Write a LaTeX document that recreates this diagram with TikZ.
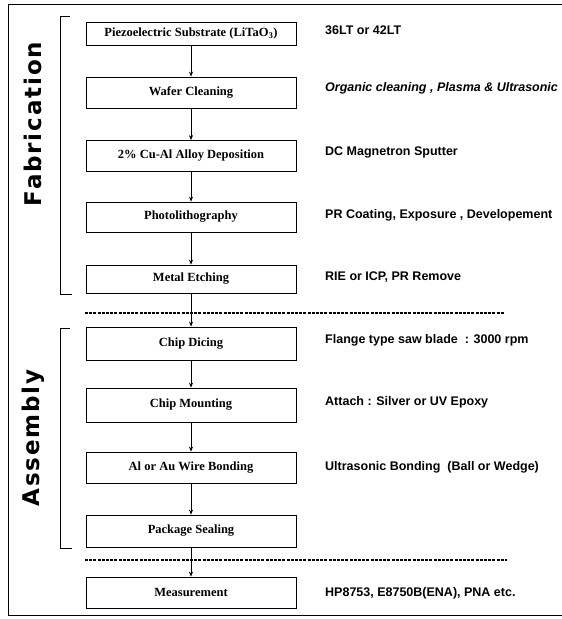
\documentclass[tikz,border=0pt]{standalone}
\usepackage{fontspec}
\setmainfont{Liberation Serif}
\newfontfamily\notefont{Liberation Sans}
\newfontfamily\sidefont[LetterSpace=8]{DejaVu Sans}
\usetikzlibrary{arrows.meta}
\tikzset{
  stepbox/.style={draw, line width=0.8bp, minimum width=210bp, minimum height=31bp, inner sep=0pt,
    font=\fontsize{12.5bp}{14bp}\selectfont\bfseries},
  notetext/.style={anchor=west, inner sep=0pt, font=\notefont\fontsize{12.5bp}{14bp}\selectfont\bfseries},
  flow/.style={line width=0.6bp, -{Stealth[length=5bp,width=4bp]}},
  sidelabel/.style={rotate=90, inner sep=0pt, font=\sidefont\fontsize{23bp}{25bp}\selectfont\bfseries},
  sep/.style={line width=1.6bp, dash pattern=on 3bp off 1.2bp},
  frame/.style={line width=1bp},
  bracket/.style={line width=0.8bp}
}
\begin{document}
\begin{tikzpicture}[x=1bp,y=-1bp]
\useasboundingbox (0,0) rectangle (562,619);
% outer frame
\coordinate (ftr) at (562,5);
\coordinate (ftl) at (8,5);
\coordinate (fbl) at (8,615);
\coordinate (fbr) at (562,615);
\draw[frame] (ftr) -- (ftl) -- (fbl) -- (fbr);
% side labels
\node[sidelabel] (fab) at (33,124) {Fabrication};
\node[sidelabel] (asm) at (33,438) {Assembly};
% brackets
\coordinate (fa1) at (70,16); \coordinate (fa2) at (60,16);
\coordinate (fa3) at (60,294); \coordinate (fa4) at (72,294);
\draw[bracket] (fa1) -- (fa2) -- (fa3) -- (fa4);
\coordinate (as1) at (70,328); \coordinate (as2) at (60,328);
\coordinate (as3) at (60,548); \coordinate (as4) at (72,548);
\draw[bracket] (as1) -- (as2) -- (as3) -- (as4);
% boxes
\node[stepbox, minimum height=23bp] (b1) at (191,33.5) {Piezoelectric Substrate (LiTaO\textsubscript{3})};
\node[stepbox] (b2) at (191,92.5) {Wafer Cleaning};
\node[stepbox] (b3) at (191,156) {2\% Cu-Al Alloy Deposition};
\node[stepbox, minimum height=30bp] (b4) at (191,217) {Photolithography};
\node[stepbox, minimum height=28bp] (b5) at (191,279) {Metal Etching};
\node[stepbox, minimum height=33bp] (b6) at (191,343.5) {Chip Dicing};
\node[stepbox, minimum height=34bp] (b7) at (191,405) {Chip Mounting};
\node[stepbox] (b8) at (191,467.5) {Al or Au Wire Bonding};
\node[stepbox, minimum height=32bp] (b9) at (191,531) {Package Sealing};
\node[stepbox] (b10) at (191,592.5) {Measurement};
% arrows
\draw[flow] (b1) -- (b2);
\draw[flow] (b2) -- (b3);
\draw[flow] (b3) -- (b4);
\draw[flow] (b4) -- (b5);
\draw[flow] (b5) -- (b6);
\draw[flow] (b6) -- (b7);
\draw[flow] (b7) -- (b8);
\draw[flow] (b8) -- (b9);
\draw[flow] (b9) -- (b10);
% separators
\coordinate (s1a) at (85,313); \coordinate (s1b) at (505,313);
\draw[sep] (s1a) -- (s1b);
\coordinate (s2a) at (85,560); \coordinate (s2b) at (507,560);
\draw[sep] (s2a) -- (s2b);
% notes
\node[notetext] (n1) at (325,30) {36LT or 42LT};
\node[notetext, font=\notefont\fontsize{12.5bp}{14bp}\selectfont\bfseries\itshape] (n2) at (325,88) {Organic cleaning , Plasma \& Ultrasonic};
\node[notetext] (n3) at (325,152) {DC Magnetron Sputter};
\node[notetext] (n4) at (325,215) {PR Coating, Exposure , Developement};
\node[notetext] (n5) at (325,277) {RIE or ICP, PR Remove};
\node[notetext] (n6) at (325,340) {Flange type saw blade \ : 3000 rpm};
\node[notetext] (n7) at (325,402) {Attach : Silver or UV Epoxy};
\node[notetext] (n8) at (325,467) {Ultrasonic Bonding \ (Ball or Wedge)};
\node[notetext] (n9) at (325,593) {HP8753, E8750B(ENA), PNA etc.};
\end{tikzpicture}
\end{document}
